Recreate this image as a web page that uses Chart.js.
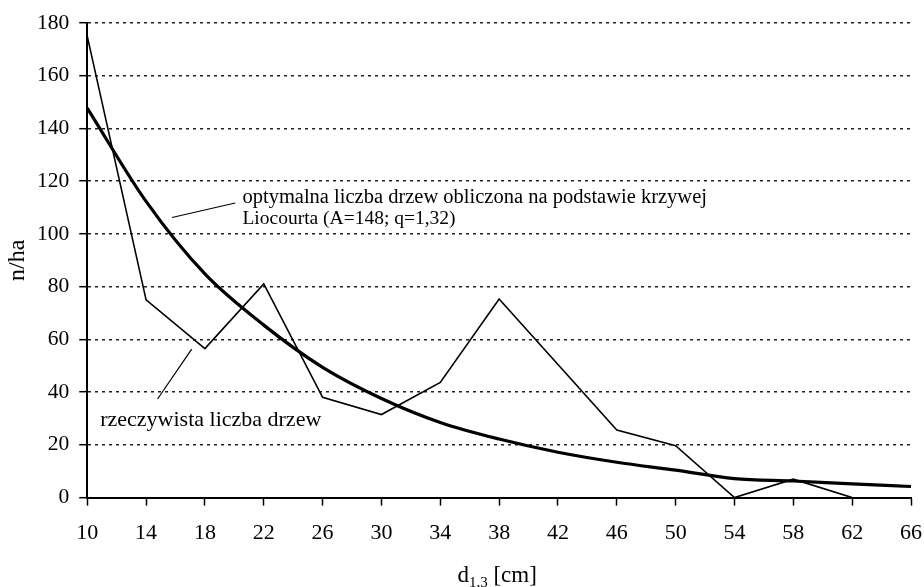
<!DOCTYPE html>
<html><head><meta charset="utf-8">
<script src="https://cdn.jsdelivr.net/npm/chart.js@4.4.1/dist/chart.umd.min.js"></script>
<style>html,body{margin:0;padding:0;background:#fff}#wrap{width:924px;height:587px}</style>
</head><body><div id="wrap"><canvas id="c" width="924" height="587"></canvas></div>
<script>
const diameters = ['10','14','18','22','26','30','34','38','42','46','50','54','58','62','66'];
const actualTrees = [175,75,56.5,81,38,31.5,43.7,75.3,50.5,25.6,19.7,0,7,0,null];
const liocourtTrees = [147.7,112.3,84.8,65.4,49.4,37.6,28.5,22.2,17.2,13.4,10.4,7.2,6.3,5.2,4.2];
const yTicks = [0,20,40,60,80,100,120,140,160,180];
const labelOptimal = ['optymalna liczba drzew obliczona na podstawie krzywej','Liocourta (A=148; q=1,32)'];
const labelActual = 'rzeczywista liczba drzew';
const yTitle = 'n/ha';

const FONT = '"Liberation Serif", "DejaVu Serif", serif';

const annot = {
  id:'annot',
  afterDraw(chart){
    const ctx = chart.ctx, x = chart.scales.x, y = chart.scales.y;
    const px = cm => x.getPixelForValue((cm-10)/4);
    const py = v => y.getPixelForValue(v);
    ctx.save();
    ctx.strokeStyle='#000'; ctx.lineWidth=1.2;
    ctx.beginPath(); ctx.moveTo(px(15.76),py(106.2)); ctx.lineTo(px(20.06),py(111.7)); ctx.stroke();
    ctx.beginPath(); ctx.moveTo(px(17.1),py(56.3)); ctx.lineTo(px(14.78),py(37.4)); ctx.stroke();
    ctx.fillStyle='#000'; ctx.textBaseline='alphabetic'; ctx.textAlign='left';
    ctx.font = '20.5px '+FONT;
    ctx.fillText(labelOptimal[0], px(20.55), py(111.8));
    ctx.font = '19.5px '+FONT;
    ctx.fillText(labelOptimal[1], px(20.55), py(103.8));
    ctx.font = '22px '+FONT;
    ctx.fillText(labelActual, px(10.88), py(27.3));
    // y-axis title
    ctx.save();
    ctx.translate(chart.chartArea.left-70, (chart.chartArea.top+chart.chartArea.bottom)/2);
    ctx.rotate(-Math.PI/2);
    ctx.textAlign='center'; ctx.textBaseline='middle';
    ctx.font='24px '+FONT;
    ctx.fillText(yTitle,0,0);
    ctx.restore();
    // x-axis title with subscript
    const cx = (chart.chartArea.left+chart.chartArea.right)/2;
    const base = 582;
    ctx.font='23px '+FONT;
    const wD = ctx.measureText('d').width;
    ctx.font='15px '+FONT;
    const wS = ctx.measureText('1,3').width;
    ctx.font='23px '+FONT;
    const wR = ctx.measureText(' [cm]').width;
    let sx = cx - (wD+wS+wR)/2 - 2;
    ctx.fillText('d', sx, base); sx+=wD;
    ctx.font='15px '+FONT; ctx.fillText('1,3', sx, base+5); sx+=wS;
    ctx.font='23px '+FONT; ctx.fillText(' [cm]', sx, base);
    ctx.restore();
  }
};

new Chart(document.getElementById('c'),{
  type:'line',
  data:{labels:diameters,datasets:[
    {data:liocourtTrees,borderColor:'#000',borderWidth:3.2,pointRadius:0,cubicInterpolationMode:'monotone',fill:false},
    {data:actualTrees,borderColor:'#000',borderWidth:1.6,pointRadius:0,tension:0,fill:false}
  ]},
  options:{
    responsive:false,animation:false,
    layout:{padding:{left:27,right:0,top:10,bottom:27}},
    plugins:{legend:{display:false},tooltip:{enabled:false}},
    scales:{
      x:{
        offset:false,
        afterFit(s){ s.paddingRight = 13; },
        grid:{drawOnChartArea:false,drawTicks:true,tickLength:8,tickColor:'#000',tickWidth:1.5},
        border:{display:true,color:'#000',width:2},
        ticks:{color:'#000',font:{family:FONT,size:22},padding:14,maxRotation:0,autoSkip:false}
      },
      y:{
        min:0,max:180,
        afterBuildTicks(s){s.ticks=yTicks.map(v=>({value:v}));},
        grid:{color:'#222',lineWidth:1.4,tickLength:8,tickColor:'#000',tickWidth:1.5,tickBorderDash:[]},
        border:{display:true,color:'#000',width:2,dash:[3,4]},
        ticks:{color:'#000',font:{family:FONT,size:21.5},padding:10}
      }
    }
  },
  plugins:[annot]
});
</script></body></html>
